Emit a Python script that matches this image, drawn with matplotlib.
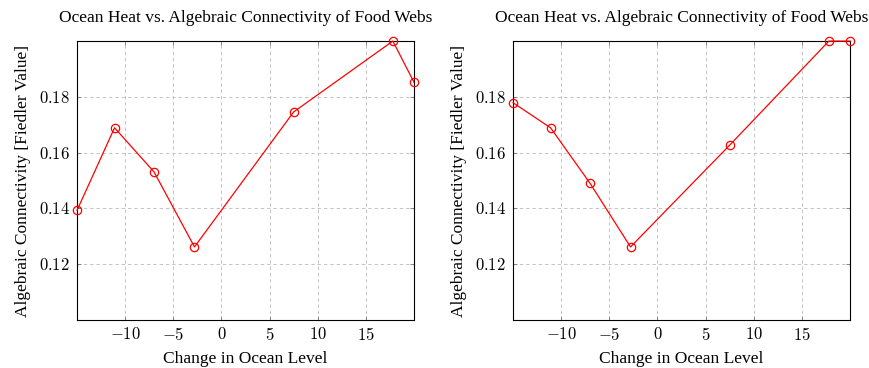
import matplotlib
matplotlib.use("Agg")
from matplotlib import pyplot as plt
from matplotlib.ticker import FuncFormatter

# datos
nivel = [-15.0, -11.1, -7.0, -2.8, 7.5, 17.8, 20.0]
fiedler_izq = [0.1393, 0.1689, 0.1531, 0.1262, 0.1746, 0.2000, 0.1852]
fiedler_der = [0.1779, 0.1689, 0.1490, 0.1262, 0.1627, 0.2000, 0.2000]

xticks = [-10, -5, 0, 5, 10, 15]
yticks = [0.12, 0.14, 0.16, 0.18]

titulo = "Ocean Heat vs. Algebraic Connectivity of Food Webs"
etiqueta_x = "Change in Ocean Level"
etiqueta_y = "Algebraic Connectivity [Fiedler Value]"

plt.rcParams["font.family"] = ["Liberation Serif", "DejaVu Serif"]
plt.rcParams["mathtext.fontset"] = "cm"

fig = plt.figure(figsize=(8.7, 3.68), dpi=100)
ax1 = fig.add_axes([0.0885, 0.1304, 0.3874, 0.758])
ax2 = fig.add_axes([0.5897, 0.1304, 0.3874, 0.758])


def fmt_x(v, pos):
    return "$%d$" % v


def fmt_y(v, pos):
    return "$%.2f$" % v


for ax, datos in ((ax1, fiedler_izq), (ax2, fiedler_der)):
    ax.plot(nivel, datos, color="red", linewidth=0.9, marker="o",
            markersize=6, markerfacecolor="none", markeredgewidth=0.9,
            clip_on=False, zorder=3)
    ax.set_xlim(-15, 20)
    ax.set_ylim(0.1, 0.2)
    ax.set_xticks(xticks)
    ax.set_yticks(yticks)
    ax.xaxis.set_major_formatter(FuncFormatter(fmt_x))
    ax.yaxis.set_major_formatter(FuncFormatter(fmt_y))
    ax.grid(True, color="#c4c4c4", linestyle=(0, (3.5, 3)), linewidth=0.7)
    ax.tick_params(direction="in", length=3, width=0.6, labelsize=12,
                   top=True, right=True, color="#777777", pad=5)
    for s in ax.spines.values():
        s.set_linewidth(0.8)
    ax.set_title(titulo, fontsize=12.5, pad=14)
    ax.set_xlabel(etiqueta_x, fontsize=12.5, labelpad=5)
    ax.set_ylabel(etiqueta_y, fontsize=12.5, labelpad=6)

fig.savefig("out.png", dpi=100)
